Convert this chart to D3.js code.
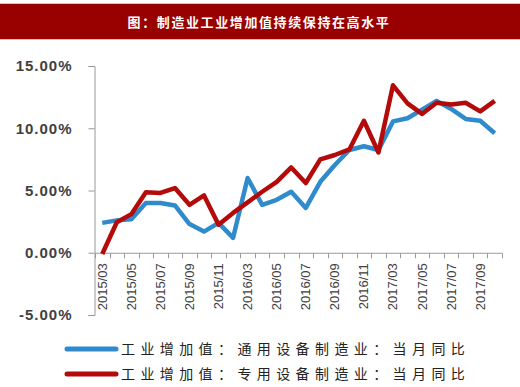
<!DOCTYPE html>
<html>
<head>
<meta charset="utf-8">
<script src="https://cdn.jsdelivr.net/npm/d3@7"></script>
<style>
  body { margin: 0; background: #fff; }
  svg { display: block; }
</style>
</head>
<body>
<svg id="chart" width="520" height="387"></svg>
<script>
// months (Jan/Feb not reported)
var months = ['2015/03','2015/04','2015/05','2015/06','2015/07','2015/08','2015/09','2015/10','2015/11','2015/12',
              '2016/03','2016/04','2016/05','2016/06','2016/07','2016/08','2016/09','2016/10','2016/11','2016/12',
              '2017/03','2017/04','2017/05','2017/06','2017/07','2017/08','2017/09','2017/10'];
var tickLabels = ['2015/03','2015/05','2015/07','2015/09','2015/11','2016/03','2016/05','2016/07','2016/09','2016/11',
                  '2017/03','2017/05','2017/07','2017/09'];
var general = [2.4, 2.6, 2.7, 4.0, 4.0, 3.8, 2.3, 1.7, 2.4, 1.2,
               6.0, 3.85, 4.25, 4.9, 3.6, 5.7, 7.05, 8.25, 8.55, 8.25,
               10.55, 10.8, 11.5, 12.2, 11.55, 10.75, 10.6, 9.6];
var special = [-0.1, 2.45, 3.1, 4.85, 4.8, 5.2, 3.85, 4.6, 2.25, 3.2,
               4.05, 4.9, 5.7, 6.85, 5.6, 7.5, 7.85, 8.3, 10.6, 8.05,
               13.45, 12.0, 11.15, 12.05, 11.9, 12.05, 11.35, 12.2];
var yTicks = [-5, 0, 5, 10, 15];
var seriesNames = ['工业增加值：通用设备制造业：当月同比', '工业增加值：专用设备制造业：当月同比'];
var colors = ['#2f8bcc', '#b50a0a'];

var svg = d3.select('#chart');

// title bar
svg.append('rect').attr('x', 0).attr('y', 3).attr('width', 520).attr('height', 1).attr('fill', '#f0b8b8');
svg.append('rect').attr('x', 0).attr('y', 4).attr('width', 520).attr('height', 35).attr('fill', '#990000');
svg.append('rect').attr('x', 0).attr('y', 39).attr('width', 520).attr('height', 1).attr('fill', '#f0b8b8');
svg.append('text')
  .attr('x', 259).attr('y', 27)
  .attr('text-anchor', 'middle')
  .attr('fill', '#fff')
  .attr('font-family', '"Noto Sans CJK SC", sans-serif')
  .attr('font-weight', 'bold')
  .attr('font-size', '13px')
  .attr('letter-spacing', '1.6px')
  .text('图：制造业工业增加值持续保持在高水平');

var x = d3.scaleBand().domain(months).range([95, 502]);
var y = d3.scaleLinear().domain([-5, 15]).range([315, 66]);

// y axis
var yAxis = svg.append('g').attr('transform', 'translate(94.5,0)')
  .call(d3.axisLeft(y).tickValues(yTicks).tickSize(6).tickPadding(16)
    .tickFormat(function(d) { return d.toFixed(2) + '%'; }));
yAxis.select('.domain').attr('stroke', '#999');
yAxis.selectAll('.tick line').attr('stroke', '#999');
yAxis.selectAll('text')
  .attr('fill', '#404040')
  .attr('font-family', '"Liberation Sans", Arial, sans-serif')
  .attr('font-size', '15px')
  .attr('font-weight', 'bold')
  .attr('letter-spacing', '1px');

// x axis (ticks between categories)
var xg = svg.append('g').attr('transform', 'translate(0,' + (y(0) + 0.5) + ')');
xg.append('line').attr('x1', 95).attr('x2', 502).attr('stroke', '#999');
var bounds = months.map(function(m) { return x(m); }).concat([x.range()[1]]);
xg.selectAll('line.tk').data(bounds).enter().append('line')
  .attr('class', 'tk')
  .attr('x1', function(d) { return Math.round(d) + 0.5; })
  .attr('x2', function(d) { return Math.round(d) + 0.5; })
  .attr('y1', 0).attr('y2', 5)
  .attr('stroke', '#999');
xg.selectAll('text').data(tickLabels).enter().append('text')
  .attr('transform', function(d) {
    return 'translate(' + (x(d) + x.bandwidth() / 2 + 4.5) + ',10) rotate(-90)';
  })
  .attr('text-anchor', 'end')
  .attr('fill', '#404040')
  .attr('font-family', 'Arial, "Liberation Sans", sans-serif')
  .attr('font-size', '13px')
  .text(function(d) { return d; });

// lines
var line = d3.line()
  .x(function(d, i) { return x(months[i]) + x.bandwidth() / 2; })
  .y(function(d) { return y(d); });

[general, special].forEach(function(s, k) {
  svg.append('path')
    .datum(s)
    .attr('d', line)
    .attr('fill', 'none')
    .attr('stroke', colors[k])
    .attr('stroke-width', 4.5)
    .attr('stroke-linejoin', 'round');
});

// legend
seriesNames.forEach(function(name, k) {
  var ly = 349 + k * 25;
  svg.append('line')
    .attr('x1', 67).attr('x2', 116).attr('y1', ly).attr('y2', ly)
    .attr('stroke', colors[k]).attr('stroke-width', 5).attr('stroke-linecap', 'round');
  svg.append('text')
    .attr('x', 121).attr('y', ly + 5)
    .attr('fill', '#222')
    .attr('font-family', '"Noto Sans CJK SC", sans-serif')
    .attr('font-size', '14px')
    .attr('letter-spacing', '5.4px')
    .text(name);
});
</script>
</body>
</html>
